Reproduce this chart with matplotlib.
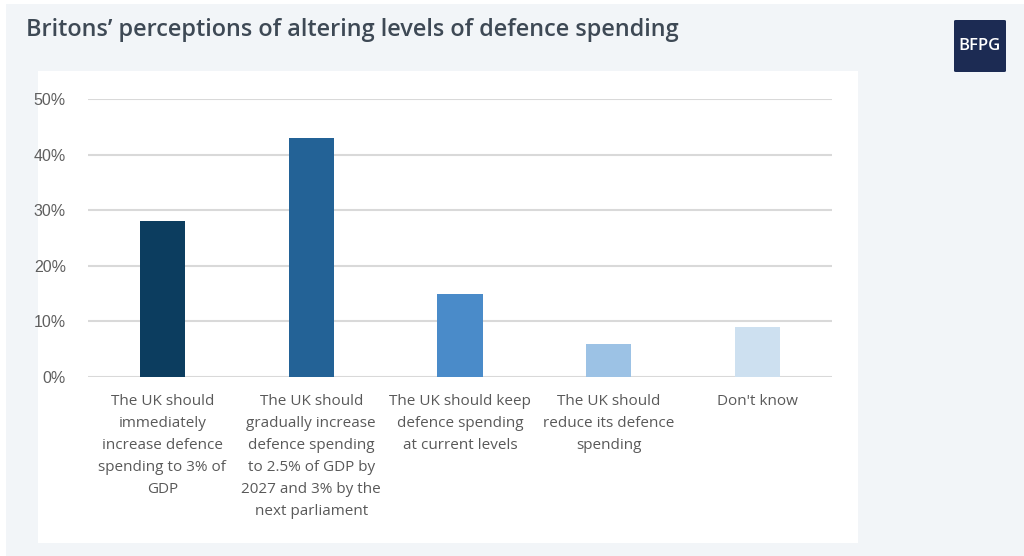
import matplotlib.pyplot as plt
from matplotlib.patches import Rectangle, FancyBboxPatch
from matplotlib.ticker import PercentFormatter

categories = [
    "The UK should\nimmediately\nincrease defence\nspending to 3% of\nGDP",
    "The UK should\ngradually increase\ndefence spending\nto 2.5% of GDP by\n2027 and 3% by the\nnext parliament",
    "The UK should keep\ndefence spending\nat current levels",
    "The UK should\nreduce its defence\nspending",
    "Don't know",
]
values = [28, 43, 15, 6, 9]
colors = ["#0c3d5f", "#236296", "#4a8bc9", "#9cc2e5", "#cde0f0"]
yticks = [0, 10, 20, 30, 40, 50]

W, H = 1024, 556
fig = plt.figure(figsize=(W / 100, H / 100), dpi=100, facecolor="white")

# page background and white chart panel
fig.patches.append(Rectangle((6 / W, 0), 1, 1 - 4 / H, transform=fig.transFigure,
                             facecolor="#f2f5f8", edgecolor="none", zorder=0))
fig.patches.append(Rectangle((38 / W, 13 / H), 820 / W, 472 / H, transform=fig.transFigure,
                             facecolor="white", edgecolor="none", zorder=1))

fig.text(26 / W, 1 - 30 / H, "Britons\u2019 perceptions of altering levels of defence spending",
         fontsize=16.9, color="#3e4955", family="Open Sans", weight="semibold",
         va="center", ha="left")

# logo
fig.patches.append(FancyBboxPatch((954 / W, 1 - 72 / H), 52 / W, 52 / H, transform=fig.transFigure,
                                  boxstyle="round,pad=0,rounding_size=0.002",
                                  facecolor="#1c2b53", edgecolor="none", zorder=2))
fig.text(980 / W, 1 - 46 / H, "BFPG", color="white", fontsize=12, family="Open Sans",
         weight="semibold", ha="center", va="center", zorder=3)

ax = fig.add_axes([88 / W, 179 / H, 744 / W, 278 / H])
ax.set_facecolor("none")
ax.set_zorder(2)
x = range(len(values))
ax.bar(x, values, width=0.305, color=colors, zorder=3)
ax.set_xlim(-0.5, len(values) - 0.5)
ax.set_ylim(0, 50)
ax.set_yticks(yticks)
ax.yaxis.set_major_formatter(PercentFormatter(decimals=0))
ax.grid(axis="y", color="#d9d9d9", linewidth=1.5, zorder=0)
for s in ax.spines.values():
    s.set_visible(False)
ax.tick_params(axis="y", length=0, pad=16, labelsize=11.5, labelcolor="#5f5f5f")
ax.tick_params(axis="x", length=0, pad=12)
for lab in ax.get_yticklabels():
    lab.set_family(["Liberation Sans", "DejaVu Sans"])
ax.set_xticks(list(x))
ax.set_xticklabels(categories, fontsize=11, color="#595959", linespacing=1.64,
                   family=["Open Sans", "DejaVu Sans"])

fig.savefig("out.png", dpi=100, facecolor=fig.get_facecolor())
